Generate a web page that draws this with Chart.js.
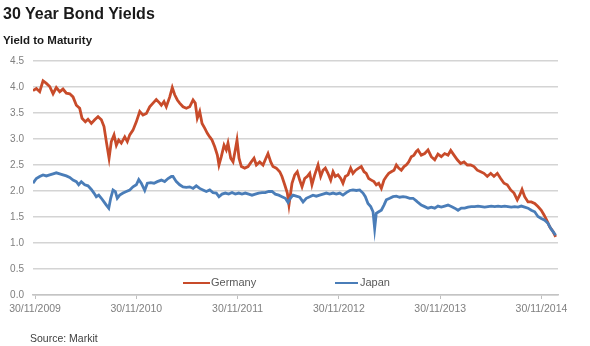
<!DOCTYPE html>
<html>
<head>
<meta charset="utf-8">
<script src="https://cdn.jsdelivr.net/npm/chart.js@4.4.0/dist/chart.umd.min.js"></script>
<style>
  body { margin: 0; background: #fff; font-family: 'Liberation Sans', Arial, sans-serif; }
  #wrap { position: relative; width: 590px; height: 346px; overflow: hidden; }
  #chart { position: absolute; left: 0; top: 0; }
  .txt { position: absolute; white-space: nowrap; line-height: 1; }
  #title { left: 3px; top: 5.5px; font-size: 16px; font-weight: bold; color: #1a1a1a; }
  #sub { left: 3px; top: 35.3px; font-size: 11.5px; font-weight: bold; color: #1a1a1a; }
  #source { left: 30px; top: 333px; font-size: 10.5px; color: #404040; }
  .swatch { position: absolute; height: 2px; top: 282px; }
  .leg { top: 276.7px; font-size: 11px; color: #595959; }
</style>
</head>
<body>
<div id="wrap">
  <canvas id="chart" width="590" height="346"></canvas>
  <div class="txt" id="title">30 Year Bond Yields</div>
  <div class="txt" id="sub">Yield to Maturity</div>
  <div class="swatch" style="left:183px;width:27px;background:#c84b2a"></div>
  <div class="txt leg" style="left:211px">Germany</div>
  <div class="swatch" style="left:335px;width:23px;background:#4a7db8"></div>
  <div class="txt leg" style="left:360px">Japan</div>
  <div class="txt" id="source">Source: Markit</div>
</div>
<script>
// DATA: x in decimal years, y = yield (%)
const tickYears = [2009.912, 2010.912, 2011.912, 2012.912, 2013.912, 2014.912];
const tickLabels = ['30/11/2009', '30/11/2010', '30/11/2011', '30/11/2012', '30/11/2013', '30/11/2014'];

const deYears = [
  2009.892,2009.925,2009.958,2009.991,2010.024,2010.057,2010.090,2010.122,2010.156,2010.188,
  2010.221,2010.255,2010.287,2010.320,2010.353,2010.376,2010.409,2010.435,2010.468,2010.501,
  2010.534,2010.567,2010.593,2010.616,2010.643,2010.665,2010.692,2010.715,2010.738,2010.764,
  2010.798,2010.823,2010.847,2010.879,2010.912,2010.946,2010.978,2011.011,2011.044,2011.077,
  2011.109,2011.143,
  2011.159,2011.185,2011.208,2011.242,2011.267,2011.291,2011.317,2011.340,2011.373,2011.406,
  2011.439,2011.472,2011.494,2011.514,2011.538,2011.561,2011.587,2011.613,2011.637,2011.659,
  2011.686,2011.712,2011.728,2011.751,2011.778,2011.800,2011.817,2011.844,2011.867,2011.889,
  2011.906,2011.926,2011.949,2011.982,2012.015,2012.047,2012.074,2012.097,2012.130,2012.163,
  2012.185,2012.212,2012.239,2012.261,2012.294,2012.328,2012.350,2012.377,2012.403,2012.419,
  2012.449,2012.476,2012.501,2012.525,2012.548,2012.574,2012.600,2012.624,2012.646,2012.673,
  2012.706,2012.732,2012.755,2012.778,2012.804,2012.831,2012.854,2012.876,2012.903,2012.930,
  2012.952,2012.975,2013.002,2013.028,2013.051,2013.078,2013.107,2013.133,2013.160,2013.182,
  2013.206,2013.232,2013.258,2013.281,2013.305,2013.331,2013.357,2013.380,2013.404,2013.429,
  2013.456,2013.479,2013.502,2013.528,2013.555,2013.577,2013.601,2013.627,2013.653,2013.676,
  2013.693,2013.725,2013.759,2013.792,2013.824,2013.858,2013.890,2013.923,2013.956,2013.989,
  2014.016,2014.048,2014.081,2014.114,2014.147,2014.180,2014.213,2014.246,2014.278,2014.312,
  2014.344,2014.377,2014.411,2014.443,2014.476,2014.509,2014.542,2014.574,2014.608,2014.641,
  2014.673,2014.697,2014.720,2014.746,2014.779,2014.811,2014.845,2014.877,2014.910,2014.937,
  2014.963,2014.993,2015.026,2015.052
];
const deYield = [
  3.93,3.97,3.91,4.12,4.07,4.01,3.87,3.99,3.91,3.96,
  3.88,3.87,3.81,3.65,3.59,3.40,3.33,3.38,3.30,3.37,
  3.43,3.37,3.24,2.95,2.63,2.95,3.08,2.88,2.98,2.92,
  3.04,2.95,3.08,3.17,3.33,3.53,3.46,3.49,3.62,3.69,
  3.76,3.69,
  3.65,3.72,3.62,3.81,3.99,3.85,3.75,3.69,3.62,3.59,
  3.62,3.75,3.69,3.40,3.53,3.30,3.21,3.11,3.04,2.98,
  2.85,2.69,2.50,2.66,2.88,2.79,2.92,2.63,2.56,2.79,
  2.98,2.63,2.47,2.44,2.47,2.56,2.63,2.50,2.56,2.50,
  2.60,2.72,2.56,2.47,2.44,2.37,2.28,2.12,1.96,1.73,
  2.15,2.31,2.37,2.21,2.08,2.24,2.28,2.34,2.12,2.31,
  2.50,2.28,2.40,2.44,2.34,2.21,2.37,2.28,2.31,2.24,
  2.15,2.28,2.31,2.44,2.34,2.40,2.44,2.47,2.37,2.34,
  2.24,2.21,2.18,2.12,2.15,2.05,2.21,2.28,2.34,2.37,
  2.40,2.50,2.44,2.40,2.47,2.50,2.56,2.66,2.69,2.76,
  2.79,2.69,2.72,2.79,2.66,2.60,2.71,2.66,2.72,2.69,
  2.78,2.69,2.60,2.53,2.56,2.50,2.50,2.47,2.40,2.37,
  2.34,2.28,2.34,2.28,2.34,2.24,2.15,2.12,2.02,1.96,
  1.83,1.92,2.03,1.89,1.79,1.79,1.76,1.70,1.63,1.54,
  1.44,1.31,1.22,1.12
];

const jpYears = [
  2009.892,2009.925,2009.958,2009.991,2010.024,2010.057,2010.090,2010.122,2010.156,2010.188,
  2010.221,2010.255,2010.287,2010.320,2010.343,2010.369,2010.403,2010.435,2010.468,2010.494,
  2010.517,2010.541,2010.567,2010.593,2010.616,2010.640,2010.659,2010.682,2010.705,2010.724,
  2010.748,2010.781,2010.813,2010.847,2010.879,2010.912,2010.936,2010.961,2010.995,2011.021,
  2011.054,2011.087,2011.119,2011.159,2011.192,2011.225,2011.258,2011.274,2011.307,2011.340,
  2011.373,2011.406,2011.439,2011.472,2011.504,2011.538,2011.570,2011.603,2011.637,2011.669,
  2011.702,2011.728,2011.758,2011.791,2011.824,2011.857,2011.889,2011.923,2011.955,2011.988,
  2012.022,2012.054,2012.087,2012.120,2012.153,2012.185,2012.219,2012.252,2012.284,2012.318,
  2012.350,2012.383,2012.410,2012.432,2012.459,2012.491,2012.525,2012.558,2012.590,2012.624,
  2012.656,2012.689,2012.722,2012.755,2012.788,2012.821,2012.854,2012.886,2012.920,2012.952,
  2012.985,2013.019,2013.051,2013.084,2013.117,2013.150,2013.173,2013.199,2013.226,2013.249,
  2013.265,2013.281,2013.305,2013.331,2013.357,2013.380,2013.414,2013.446,2013.479,2013.512,
  2013.545,2013.577,2013.611,2013.644,2013.676,2013.693,2013.725,2013.759,2013.792,2013.824,
  2013.858,2013.890,2013.923,2013.956,2013.989,2014.022,2014.055,2014.088,2014.120,2014.154,
  2014.186,2014.219,2014.253,2014.285,2014.318,2014.351,2014.384,2014.416,2014.450,2014.483,
  2014.515,2014.549,2014.581,2014.614,2014.647,2014.680,2014.713,2014.746,2014.779,2014.811,
  2014.845,2014.877,2014.910,2014.944,2014.976,2015.003,2015.026,2015.052
];
const jpYield = [
  2.15,2.24,2.28,2.31,2.29,2.31,2.33,2.35,2.33,2.31,
  2.29,2.26,2.21,2.18,2.12,2.18,2.12,2.10,2.03,1.96,
  1.89,1.92,1.86,1.79,1.73,1.67,1.86,2.02,1.99,1.86,
  1.92,1.96,1.99,2.02,2.08,2.12,2.22,2.15,2.01,2.15,
  2.16,2.15,2.18,2.21,2.18,2.24,2.28,2.28,2.18,2.12,
  2.08,2.07,2.08,2.05,2.10,2.05,2.02,1.99,2.02,1.97,
  1.96,1.89,1.94,1.96,1.94,1.97,1.94,1.96,1.94,1.96,
  1.94,1.92,1.94,1.96,1.97,1.97,1.99,1.99,1.94,1.92,
  1.89,1.86,1.78,1.86,1.92,1.90,1.88,1.79,1.86,1.89,
  1.92,1.90,1.92,1.94,1.96,1.94,1.96,1.94,1.96,1.92,
  1.97,2.01,2.02,2.01,2.02,1.96,1.89,1.76,1.70,1.60,
  1.28,1.57,1.60,1.63,1.73,1.83,1.86,1.89,1.90,1.88,
  1.89,1.88,1.86,1.86,1.81,1.78,1.73,1.70,1.67,1.69,
  1.67,1.71,1.69,1.71,1.73,1.70,1.67,1.63,1.67,1.67,
  1.69,1.70,1.70,1.71,1.70,1.69,1.70,1.71,1.70,1.71,
  1.70,1.71,1.70,1.69,1.70,1.69,1.71,1.69,1.67,1.63,
  1.60,1.51,1.47,1.44,1.38,1.28,1.22,1.15
];

const xMin = 2009.892, xMax = 2015.075;
const FONT = "'Liberation Sans', Arial, sans-serif";

const chart = new Chart(document.getElementById('chart'), {
  type: 'line',
  data: {
    datasets: [
      {
        label: 'Germany',
        data: deYears.map((x, i) => ({ x: x, y: deYield[i] })),
        borderColor: '#c84b2a',
        borderWidth: 2.8,
        pointRadius: 0,
        tension: 0,
        fill: false,
        order: 1
      },
      {
        label: 'Japan',
        data: jpYears.map((x, i) => ({ x: x, y: jpYield[i] })),
        borderColor: '#4a7db8',
        borderWidth: 2.8,
        pointRadius: 0,
        tension: 0,
        fill: false,
        order: 0
      }
    ]
  },
  options: {
    responsive: false,
    animation: false,
    devicePixelRatio: 1,
    layout: { padding: { top: 61, right: 32, left: 0, bottom: 0 } },
    plugins: { legend: { display: false }, tooltip: { enabled: false } },
    scales: {
      x: {
        type: 'linear',
        min: xMin,
        max: xMax,
        afterBuildTicks: (s) => { s.ticks = tickYears.map(v => ({ value: v })); },
        afterFit: (s) => { s.height = 51; },
        ticks: {
          callback: (v, i) => tickLabels[i],
          color: '#7f7f7f',
          font: { family: FONT, size: 10.5 },
          padding: 4,
          maxRotation: 0,
          autoSkip: false
        },
        grid: { drawOnChartArea: false, drawTicks: true, tickLength: 4, color: '#bfbfbf' },
        border: { display: true, color: '#c4c4c4', width: 1.5 }
      },
      y: {
        min: 0,
        max: 4.5,
        afterFit: (s) => { s.width = 33; },
        ticks: {
          stepSize: 0.5,
          callback: (v) => v.toFixed(1),
          color: '#7f7f7f',
          font: { family: FONT, size: 10 },
          padding: 9
        },
        grid: { color: '#d4d4d4', lineWidth: 1.5, drawTicks: false },
        border: { display: false }
      }
    }
  }
});
</script>
</body>
</html>
